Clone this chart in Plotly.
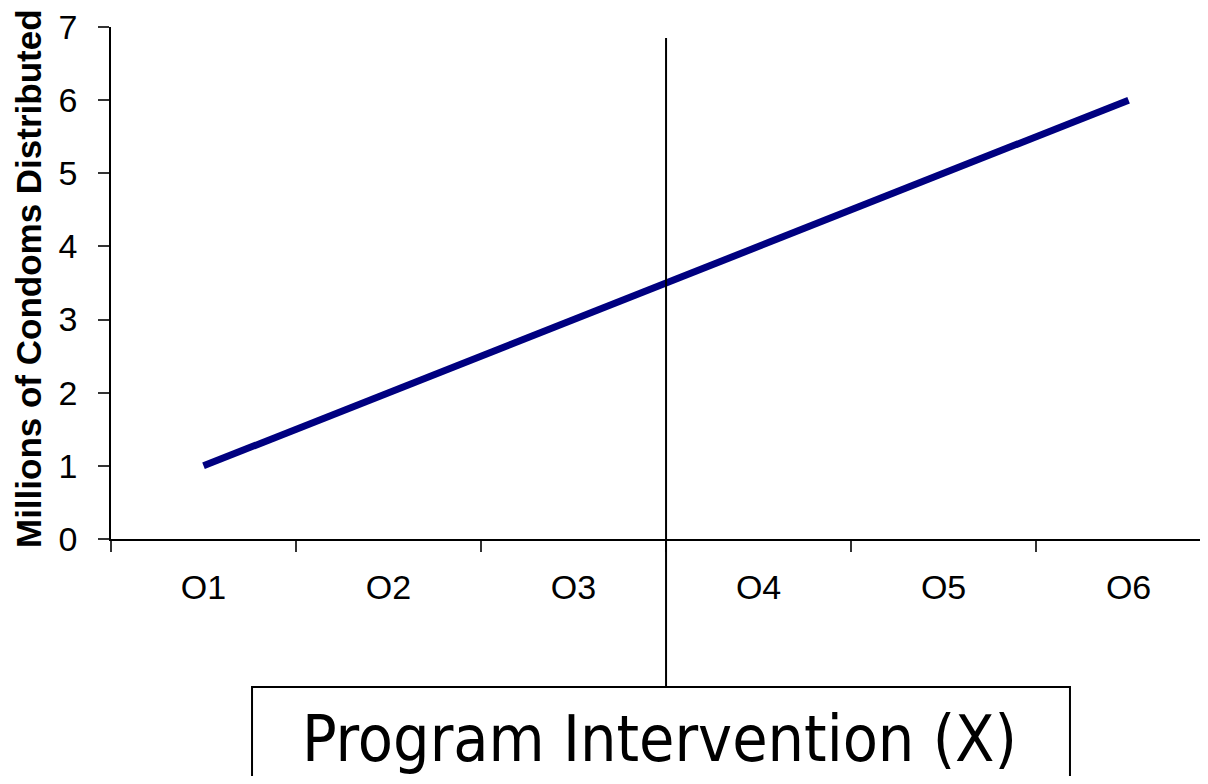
import plotly.graph_objects as go

categories = ["O1", "O2", "O3", "O4", "O5", "O6"]
condoms_millions = [1, 2, 3, 4, 5, 6]
y_ticks = [0, 1, 2, 3, 4, 5, 6, 7]

fig = go.Figure()
fig.add_trace(go.Scatter(
    x=categories, y=condoms_millions, mode="lines",
    line=dict(color="#000080", width=7), showlegend=False,
))

fig.update_layout(
    width=1192, height=768,
    margin=dict(l=103, r=0, t=16, b=237),
    plot_bgcolor="white", paper_bgcolor="white",
    font=dict(family="Arial, Liberation Sans, sans-serif", color="black"),
    xaxis=dict(
        type="category", range=[-0.5, 5.386], tickson="boundaries",
        showgrid=False, zeroline=False, showline=True, linecolor="black", linewidth=1.5,
        ticks="outside", ticklen=11, tickcolor="#333", tickwidth=1.5,
        tickfont=dict(size=34), ticklabelstandoff=17, ticklabeloverflow="allow",
    ),
    yaxis=dict(
        range=[0, 7], tickvals=y_ticks, showgrid=False, zeroline=False,
        showline=True, linecolor="black", linewidth=1.5,
        ticks="outside", ticklen=11, tickcolor="#333", tickwidth=1.5,
        tickfont=dict(size=34), ticklabelstandoff=14, ticklabeloverflow="allow",
    ),
    shapes=[
        dict(type="line", xref="x", yref="paper", x0=2.5, x1=2.5, y0=-0.293, y1=0.9786,
             line=dict(color="black", width=2)),
        dict(type="rect", xref="paper", yref="paper", x0=0.1295, x1=0.8806, y0=-0.2893, y1=-0.62,
             line=dict(color="black", width=2), fillcolor="white"),
    ],
    annotations=[
        dict(text="<b>Millions of Condoms Distributed</b>", xref="paper", yref="paper",
             x=-0.0762, y=0.5078, textangle=-90, showarrow=False,
             xanchor="center", yanchor="middle",
             font=dict(size=35, family="Arial, Liberation Sans, sans-serif", color="black")),
        dict(text="Program Intervention (X)", xref="paper", yref="paper",
             x=0.5041, y=-0.39, showarrow=False, xanchor="center", yanchor="middle",
             font=dict(size=64, family="DejaVu Sans Condensed, Liberation Sans Narrow, sans-serif", color="black")),
    ],
)

fig.write_html("out.html")
